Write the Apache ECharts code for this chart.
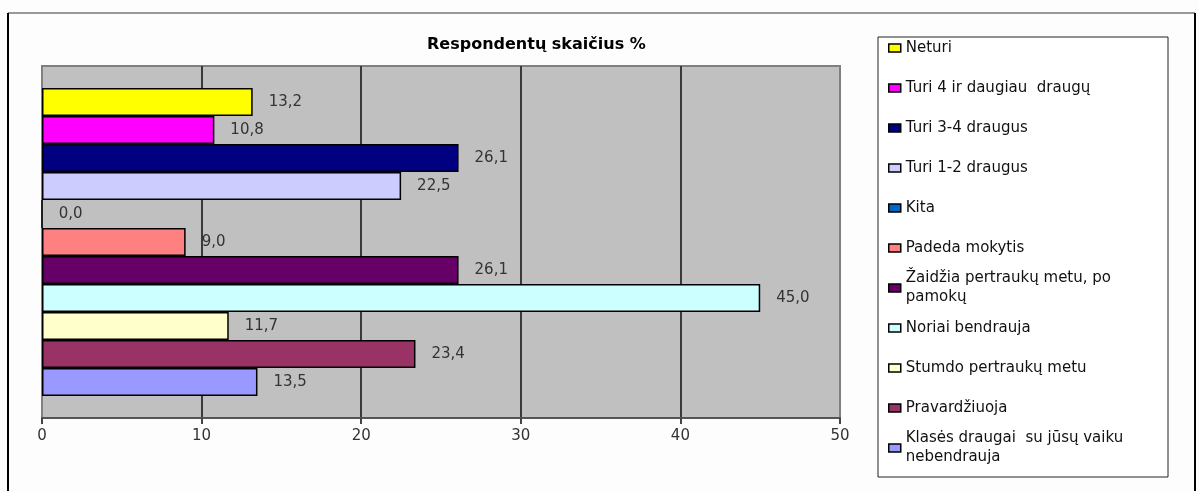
<!DOCTYPE html>
<html>
<head>
<meta charset="utf-8">
<script src="https://cdn.jsdelivr.net/npm/echarts@6.0.0/dist/echarts.min.js"></script>
<style>
  html, body { margin: 0; padding: 0; background: #fdfdfd; }
  #main { width: 1199px; height: 491px; }
</style>
</head>
<body>
<div id="main"></div>
<script>
const names = [
  'Neturi',
  'Turi 4 ir daugiau  draugų',
  'Turi 3-4 draugus',
  'Turi 1-2 draugus',
  'Kita',
  'Padeda mokytis',
  'Žaidžia pertraukų metu, po\npamokų',
  'Noriai bendrauja',
  'Stumdo pertraukų metu',
  'Pravardžiuoja',
  'Klasės draugai  su jūsų vaiku\nnebendrauja'
]
const values = [13.2, 10.8, 26.1, 22.5, 0.0, 9.0, 26.1, 45.0, 11.7, 23.4, 13.5]
const colors = ['#FFFF00', '#FF00FF', '#000080', '#CCCCFF', '#0066CC', '#FF8080',
  '#660066', '#CCFFFF', '#FFFFCC', '#993366', '#9999FF']
const xTicks = [0, 10, 20, 30, 40, 50]

const font = 'DejaVu Sans'
const lh = 19

const myChart = echarts.init(document.getElementById('main'))

// one legend per entry so that every row sits 40px apart like in the original
const legends = names.map((name, i) => {
  const lines = name.split('\n').length
  const textH = lh * (2 * lines - 1)
  return {
    data: [name],
    orient: 'vertical',
    left: 888,
    top: 48 + i * 40 - textH / 2,
    padding: 0,
    icon: 'rect',
    itemWidth: 12,
    itemHeight: 8,
    itemStyle: { borderColor: '#000', borderWidth: 1.5 },
    textStyle: {
      fontFamily: font,
      fontSize: 15,
      color: '#111',
      lineHeight: lh,
      padding: [(lines - 1) * lh, 0, 0, 0]
    }
  }
})

myChart.setOption({
  animation: false,
  backgroundColor: '#fdfdfd',
  title: {
    text: 'Respondentų skaičius %',
    left: 427,
    top: 37,
    padding: 0,
    textStyle: { fontFamily: font, fontSize: 16, fontWeight: 'bold', color: '#000' }
  },
  legend: legends,
  grid: {
    left: 42,
    top: 66,
    right: 359,
    bottom: 73,
    show: true,
    backgroundColor: '#C0C0C0',
    borderColor: '#808080',
    borderWidth: 2
  },
  xAxis: {
    type: 'value',
    min: xTicks[0],
    max: xTicks[xTicks.length - 1],
    interval: 10,
    axisLine: { show: true, lineStyle: { color: '#555', width: 2 } },
    axisTick: { show: true, length: 6, lineStyle: { color: '#444', width: 2 } },
    axisLabel: { fontFamily: font, fontSize: 15, color: '#333', margin: 11 },
    splitLine: { show: true, showMinLine: false, showMaxLine: false, lineStyle: { color: '#3a3a3a', width: 2 } }
  },
  yAxis: {
    type: 'category',
    data: [''],
    axisLine: { show: false },
    axisTick: { show: false },
    axisLabel: { show: false }
  },
  series: names.map((name, i) => ({
    name: name,
    type: 'bar',
    data: [values[i]],
    barGap: '0%',
    barCategoryGap: '12.5%',
    itemStyle: { color: colors[i], borderColor: '#000', borderWidth: 1.5 },
    label: {
      show: true,
      position: 'right',
      distance: 16,
      fontFamily: font,
      fontSize: 15,
      color: '#333',
      formatter: p => p.value.toFixed(1).replace('.', ',')
    }
  })),
  graphic: [
    { type: 'line', shape: { x1: 8, y1: 13, x2: 1195, y2: 13 }, style: { stroke: '#999', lineWidth: 2 } },
    { type: 'line', shape: { x1: 8, y1: 13, x2: 8, y2: 491 }, style: { stroke: '#000', lineWidth: 2 } },
    { type: 'line', shape: { x1: 1195, y1: 13, x2: 1195, y2: 491 }, style: { stroke: '#000', lineWidth: 2 } },
    { type: 'rect', z: -1, shape: { x: 878, y: 37, width: 290, height: 440 }, style: { fill: '#fff', stroke: '#222', lineWidth: 1 } }
  ]
})
</script>
</body>
</html>
